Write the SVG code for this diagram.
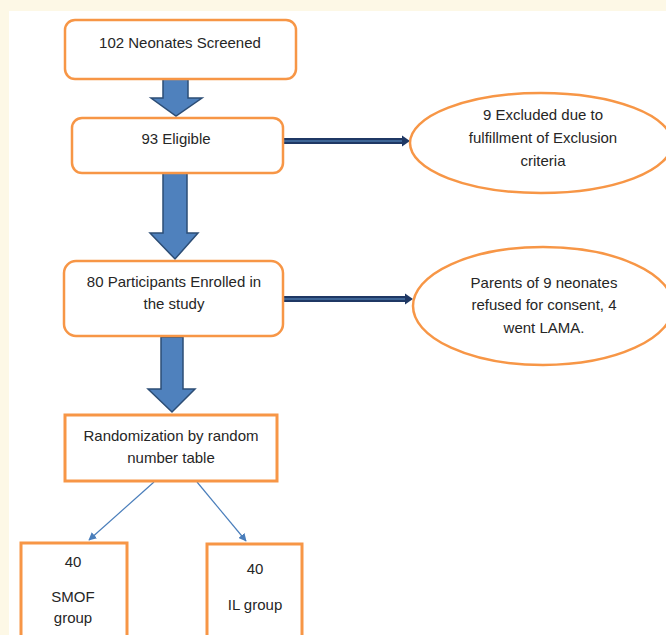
<svg xmlns="http://www.w3.org/2000/svg" width="666" height="635" viewBox="0 0 666 635">
  <style>
    .t { font-family: "Liberation Sans", Arial, sans-serif; font-size: 15px; fill: #262626; text-anchor: middle; }
    .box { fill: #ffffff; stroke: #f79646; stroke-width: 2.5; }
    .sq { fill: #ffffff; stroke: #f79646; stroke-width: 3; }
    .block { fill: #4f81bd; stroke: #2c4d75; stroke-width: 1.5; stroke-linejoin: miter; }
    .hline { stroke: #1f3864; stroke-width: 6; fill: none; }
    .hinner { stroke: #3e6596; stroke-width: 2; fill: none; }
    .thin { stroke: #4a7ebb; stroke-width: 1.2; fill: none; marker-end: url(#thinhead); }
  </style>
  <defs>
    <marker id="thinhead" viewBox="0 0 10 10" refX="9" refY="5" markerWidth="8" markerHeight="8" markerUnits="userSpaceOnUse" orient="auto">
      <path d="M0,0 L10,5 L0,10 Z" fill="#4a7ebb"/>
    </marker>
  </defs>
  <rect x="0" y="0" width="666" height="635" fill="#fdf8e6"/>
  <rect x="9" y="11" width="657" height="624" fill="#ffffff"/>

  <g id="connectors">
    <path class="block" d="M163,79 L188,79 L188,98 L202,98 L176,116 L151,98 L163,98 Z"/>
    <path class="block" d="M163,173 L187,173 L187,233 L198,233 L175,259 L150,233 L163,233 Z"/>
    <path class="block" d="M161,337 L183,337 L183,389 L195,389 L172,412 L148,389 L161,389 Z"/>
    <line class="hline" x1="283" y1="141" x2="403" y2="141"/>
    <line class="hinner" x1="283" y1="141" x2="403" y2="141"/>
    <path d="M402,135.5 L410,141 L402,146.5 Z" fill="#1f3864"/>
    <line class="hline" x1="283" y1="299" x2="406" y2="299"/>
    <line class="hinner" x1="283" y1="299" x2="406" y2="299"/>
    <path d="M405,293.5 L413,299 L405,304.5 Z" fill="#1f3864"/>
    <line class="thin" x1="154" y1="482" x2="89" y2="540"/>
    <line class="thin" x1="197" y1="482" x2="246" y2="541"/>
  </g>

  <g id="screened">
    <rect class="box" x="65" y="20" width="231" height="59" rx="10"/>
    <text class="t" x="180" y="48">102 Neonates Screened</text>
  </g>
  <g id="eligible">
    <rect class="box" x="72" y="118" width="211" height="55" rx="10"/>
    <text class="t" x="176" y="144">93 Eligible</text>
  </g>
  <g id="excluded">
    <ellipse class="box" cx="541" cy="143" rx="131" ry="50"/>
    <text class="t" x="543" y="120">9 Excluded due to</text>
    <text class="t" x="543" y="143">fulfillment of Exclusion</text>
    <text class="t" x="543" y="166">criteria</text>
  </g>
  <g id="enrolled">
    <rect class="box" x="64" y="261" width="219" height="75" rx="12"/>
    <text class="t" x="174" y="287">80 Participants Enrolled in</text>
    <text class="t" x="174" y="309">the study</text>
  </g>
  <g id="refused">
    <ellipse class="box" cx="543" cy="306" rx="130" ry="59"/>
    <text class="t" x="544" y="288">Parents of 9 neonates</text>
    <text class="t" x="544" y="310">refused for consent, 4</text>
    <text class="t" x="544" y="333">went LAMA.</text>
  </g>
  <g id="randomization">
    <rect class="sq" x="65" y="415" width="212" height="66"/>
    <text class="t" x="171" y="441">Randomization by random</text>
    <text class="t" x="171" y="463">number table</text>
  </g>
  <g id="smof">
    <rect class="sq" x="21" y="543" width="106" height="100"/>
    <text class="t" x="73" y="567">40</text>
    <text class="t" x="73" y="602">SMOF</text>
    <text class="t" x="73" y="623">group</text>
  </g>
  <g id="il">
    <rect class="sq" x="207" y="544" width="95" height="100"/>
    <text class="t" x="255" y="574">40</text>
    <text class="t" x="255" y="610">IL group</text>
  </g>
</svg>
